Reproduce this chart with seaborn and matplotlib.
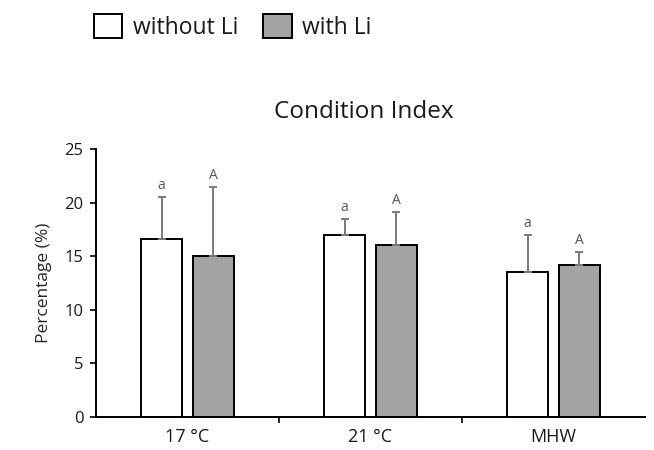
import pandas as pd
import seaborn as sns
import matplotlib.pyplot as plt
from matplotlib.patches import Patch

conditions = ["17 °C", "21 °C", "MHW"]
groups = ["without Li", "with Li"]
mean_without = [16.6, 17.0, 13.5]
mean_with = [15.0, 16.0, 14.2]
err_without = [3.9, 1.5, 3.5]
err_with = [6.5, 3.1, 1.2]
letters_without = ["a", "a", "a"]
letters_with = ["A", "A", "A"]

df = pd.DataFrame({
    "condition": conditions * 2,
    "group": [groups[0]] * 3 + [groups[1]] * 3,
    "value": mean_without + mean_with,
})

sns.set_style("ticks")
plt.rcParams["font.family"] = ["Open Sans", "DejaVu Sans"]
plt.rcParams["text.color"] = "#1a1a1a"
plt.rcParams["xtick.color"] = "black"
plt.rcParams["ytick.color"] = "black"
plt.rcParams["xtick.labelcolor"] = "#1a1a1a"
plt.rcParams["ytick.labelcolor"] = "#1a1a1a"

fig = plt.figure(figsize=(6.54, 4.5), dpi=100)
ax = fig.add_axes([96 / 654, 33 / 450, 549 / 654, 268 / 450])

colors = {"without Li": "white", "with Li": "#a3a3a3"}
sns.barplot(
    data=df, x="condition", y="value", hue="group",
    order=conditions, hue_order=groups, palette=colors,
    width=0.568, gap=0.211, edgecolor="black", linewidth=1.4,
    errorbar=None, legend=False, ax=ax,
)

# upward-only error bars and letters on top
errs = [err_without, err_with]
letters = [letters_without, letters_with]
for cont, e, lab in zip(ax.containers, errs, letters):
    xs = [b.get_x() + b.get_width() / 2 for b in cont]
    ys = [b.get_height() for b in cont]
    ax.errorbar(xs, ys, yerr=[[0] * len(e), e], fmt="none",
                ecolor="#7a7a7a", elinewidth=1.4, capsize=3, capthick=1.4,
                zorder=1)
    for x, y, er, t in zip(xs, ys, e, lab):
        ax.text(x, y + er + 0.35, t, ha="center", va="bottom",
                fontsize=10, color="#555555")

ax.set_xlim(-0.5, 2.5)
ax.set_ylim(0, 25)
ax.set_yticks([0, 5, 10, 15, 20, 25])
ax.set_xticks([0.5, 1.5], minor=True)
ax.tick_params(axis="x", which="major", length=0, labelsize=13, pad=8)
ax.tick_params(axis="x", which="minor", length=4, width=1.2, direction="out")
ax.tick_params(axis="y", length=4, width=1.2, labelsize=12, direction="out", pad=5)
ax.set_xlabel("")
ax.set_ylabel("Percentage (%)", fontsize=12.5, labelpad=9)
ax.set_title("Condition Index", fontsize=17.5, pad=22, x=0.487)
for s in ["top", "right"]:
    ax.spines[s].set_visible(False)
for s in ["left", "bottom"]:
    ax.spines[s].set_linewidth(1.4)
    ax.spines[s].set_color("black")

handles = [Patch(facecolor=colors[g], edgecolor="black", linewidth=1.4) for g in groups]
fig.legend(handles, groups, loc="upper left", bbox_to_anchor=(73 / 654, 1.015),
           ncol=2, frameon=False, fontsize=16.5, handlelength=1.25, handleheight=1.25,
           handletextpad=0.45, columnspacing=1.1)

fig.savefig("out.png", dpi=100, facecolor="white")
